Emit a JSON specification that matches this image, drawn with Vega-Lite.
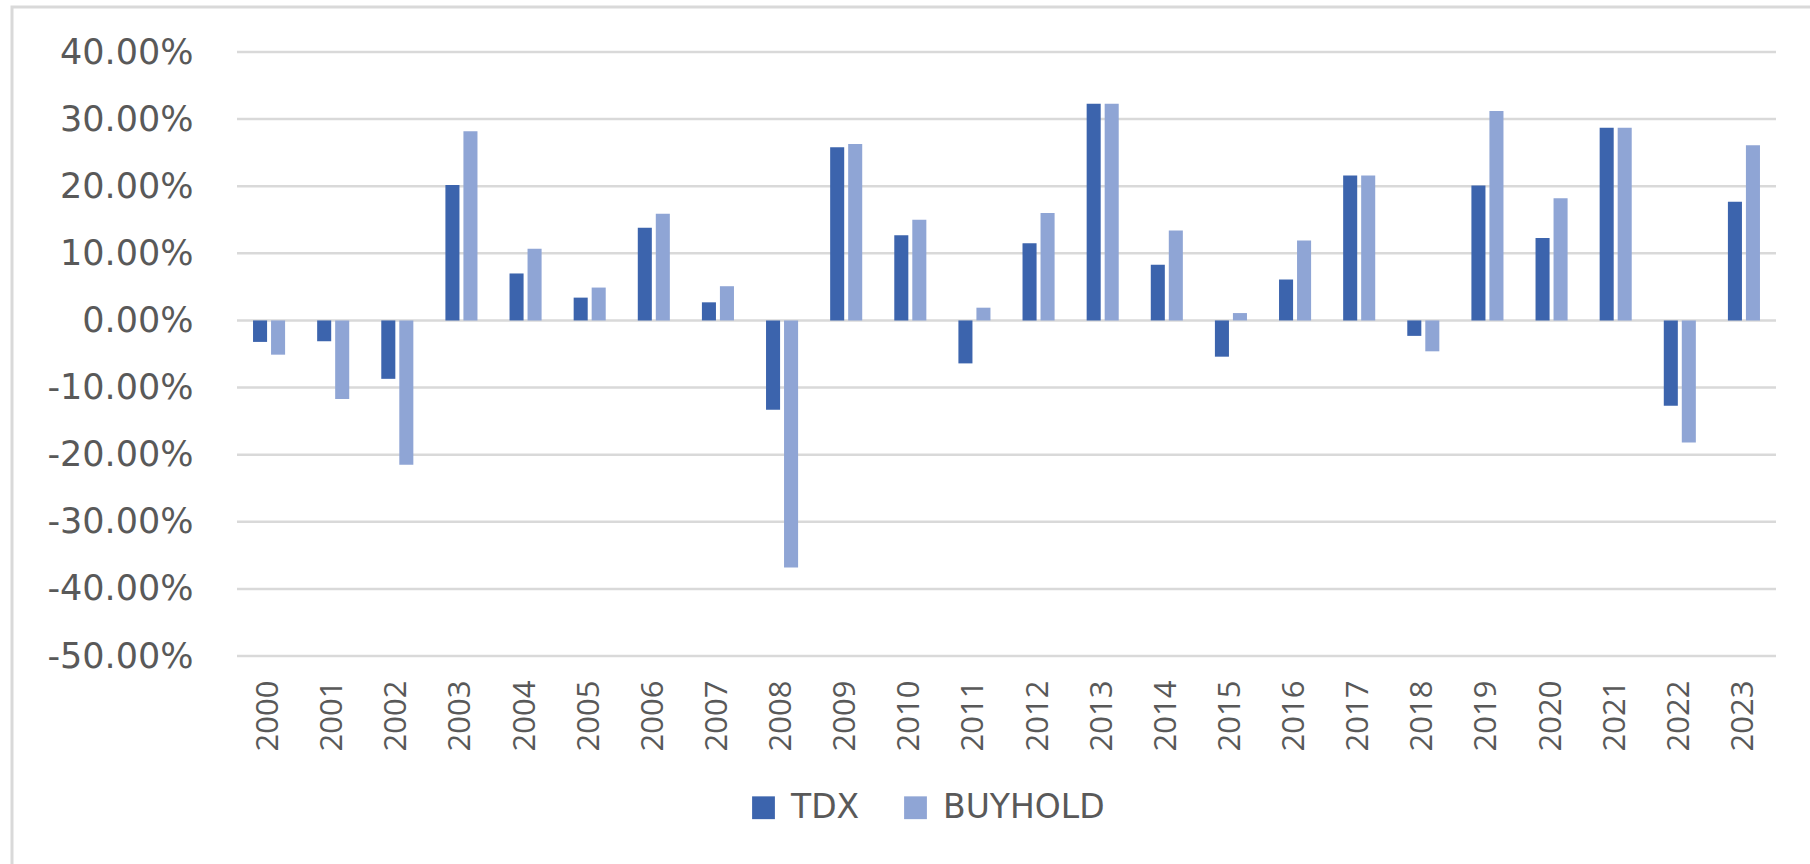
{
  "$schema": "https://vega.github.io/schema/vega-lite/v6.json",
  "autosize": {"type": "none"},
  "width": 1810,
  "height": 870,
  "padding": {"left": 12, "top": 7, "right": 0, "bottom": 0},
  "background": "white",
  "config": {"view": {"stroke": "#d9d9d9", "strokeWidth": 3}},
  "datasets": {
    "returns": [
      {"year": "2000", "series": "TDX", "value": -0.032}, {"year": "2000", "series": "BUYHOLD", "value": -0.051},
      {"year": "2001", "series": "TDX", "value": -0.031}, {"year": "2001", "series": "BUYHOLD", "value": -0.117},
      {"year": "2002", "series": "TDX", "value": -0.087}, {"year": "2002", "series": "BUYHOLD", "value": -0.215},
      {"year": "2003", "series": "TDX", "value": 0.202}, {"year": "2003", "series": "BUYHOLD", "value": 0.282},
      {"year": "2004", "series": "TDX", "value": 0.070}, {"year": "2004", "series": "BUYHOLD", "value": 0.107},
      {"year": "2005", "series": "TDX", "value": 0.034}, {"year": "2005", "series": "BUYHOLD", "value": 0.049},
      {"year": "2006", "series": "TDX", "value": 0.138}, {"year": "2006", "series": "BUYHOLD", "value": 0.159},
      {"year": "2007", "series": "TDX", "value": 0.027}, {"year": "2007", "series": "BUYHOLD", "value": 0.051},
      {"year": "2008", "series": "TDX", "value": -0.133}, {"year": "2008", "series": "BUYHOLD", "value": -0.368},
      {"year": "2009", "series": "TDX", "value": 0.258}, {"year": "2009", "series": "BUYHOLD", "value": 0.263},
      {"year": "2010", "series": "TDX", "value": 0.127}, {"year": "2010", "series": "BUYHOLD", "value": 0.150},
      {"year": "2011", "series": "TDX", "value": -0.064}, {"year": "2011", "series": "BUYHOLD", "value": 0.019},
      {"year": "2012", "series": "TDX", "value": 0.115}, {"year": "2012", "series": "BUYHOLD", "value": 0.160},
      {"year": "2013", "series": "TDX", "value": 0.323}, {"year": "2013", "series": "BUYHOLD", "value": 0.323},
      {"year": "2014", "series": "TDX", "value": 0.083}, {"year": "2014", "series": "BUYHOLD", "value": 0.134},
      {"year": "2015", "series": "TDX", "value": -0.054}, {"year": "2015", "series": "BUYHOLD", "value": 0.011},
      {"year": "2016", "series": "TDX", "value": 0.061}, {"year": "2016", "series": "BUYHOLD", "value": 0.119},
      {"year": "2017", "series": "TDX", "value": 0.216}, {"year": "2017", "series": "BUYHOLD", "value": 0.216},
      {"year": "2018", "series": "TDX", "value": -0.023}, {"year": "2018", "series": "BUYHOLD", "value": -0.046},
      {"year": "2019", "series": "TDX", "value": 0.201}, {"year": "2019", "series": "BUYHOLD", "value": 0.312},
      {"year": "2020", "series": "TDX", "value": 0.123}, {"year": "2020", "series": "BUYHOLD", "value": 0.182},
      {"year": "2021", "series": "TDX", "value": 0.287}, {"year": "2021", "series": "BUYHOLD", "value": 0.287},
      {"year": "2022", "series": "TDX", "value": -0.127}, {"year": "2022", "series": "BUYHOLD", "value": -0.182},
      {"year": "2023", "series": "TDX", "value": 0.177}, {"year": "2023", "series": "BUYHOLD", "value": 0.261}
    ],
    "grid": [
      {"value": -0.5}, {"value": -0.4}, {"value": -0.3}, {"value": -0.2}, {"value": -0.1},
      {"value": 0}, {"value": 0.1}, {"value": 0.2}, {"value": 0.3}, {"value": 0.4}
    ]
  },
  "layer": [
    {
      "data": {"name": "grid"},
      "mark": {"type": "rule", "color": "#d9d9d9", "strokeWidth": 2.5},
      "encoding": {
        "x": {"datum": 0, "type": "quantitative", "scale": {"domain": [0, 1], "range": [225, 1764]}, "axis": null},
        "x2": {"datum": 1},
        "y": {"field": "value", "type": "quantitative", "scale": {"domain": [-0.5, 0.4], "nice": false, "zero": false, "range": [649, 45]}, "axis": null}
      }
    },
    {
      "data": {"name": "returns"},
      "mark": {"type": "bar"},
      "encoding": {
        "x": {
          "field": "year", "type": "nominal", "sort": null,
          "scale": {"paddingInner": 0.5, "paddingOuter": 0.25, "range": [225, 1764]},
          "axis": {
            "title": null, "domain": false, "ticks": false, "grid": false, "offset": -221,
            "labelAngle": -90, "labelAlign": "right", "labelBaseline": "middle",
            "labelFont": "Open Sans", "labelFontSize": 31, "labelColor": "#595959",
            "labelPadding": 24
          }
        },
        "xOffset": {
          "field": "series", "type": "nominal", "sort": ["TDX", "BUYHOLD"],
          "scale": {"paddingInner": 0.22}
        },
        "y": {
          "field": "value", "type": "quantitative",
          "scale": {"domain": [-0.5, 0.4], "nice": false, "zero": false, "range": [649, 45]},
          "axis": {
            "title": null, "values": [-0.5, -0.4, -0.3, -0.2, -0.1, 0, 0.1, 0.2, 0.3, 0.4],
            "labelExpr": "replace(format(datum.value, '.2%'), '−', '-')",
            "domain": false, "ticks": false, "grid": false, "offset": -225,
            "labelFont": "DejaVu Sans", "labelFontSize": 35, "labelColor": "#595959",
            "labelPadding": 44
          }
        },
        "color": {
          "field": "series", "type": "nominal",
          "scale": {"domain": ["TDX", "BUYHOLD"], "range": ["#3c64ad", "#8fa5d5"]},
          "legend": {
            "title": null, "orient": "none", "direction": "horizontal",
            "legendX": 735, "legendY": 784,
            "symbolType": "square", "symbolSize": 520, "symbolStrokeWidth": 0,
            "labelFont": "DejaVu Sans", "labelFontSize": 33, "labelColor": "#595959",
            "labelOffset": 11, "columnPadding": 39, "labelLimit": 0
          }
        }
      }
    }
  ],
  "resolve": {"scale": {"x": "independent"}, "axis": {"x": "independent", "y": "independent"}}
}
